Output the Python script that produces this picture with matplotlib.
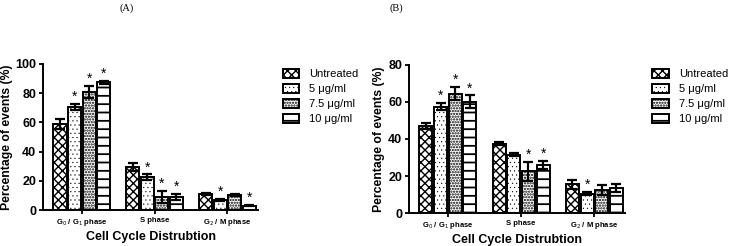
import numpy as np
import matplotlib.pyplot as plt
import matplotlib as mpl

plt.rcParams['font.family'] = ['Liberation Sans', 'DejaVu Sans']

phases = ["G$_0$ / G$_1$ phase", "S phase", "G$_2$ / M phase"]
groups = ["Untreated", "5 \u03bcg/ml", "7.5 \u03bcg/ml", "10 \u03bcg/ml"]

# panel A values (mean, sem) per treatment across phases
a_mean = [[59, 29.5, 11], [70.5, 22.5, 7], [81, 9, 10.5], [87.5, 9, 3]]
a_err = [[3.5, 3, 1], [2, 2, 0.5], [4, 4, 0.7], [1, 2, 0.5]]
a_star = [[0, 0, 0], [1, 1, 1], [1, 1, 0], [1, 1, 1]]

# panel B values
b_mean = [[47, 37.5, 15.5], [57.5, 31.5, 10.5], [64.5, 22.5, 12.5], [60, 26, 13.5]]
b_err = [[1.5, 1, 2.5], [2, 0.8, 1], [3.5, 5, 2.5], [3.5, 2, 2]]
b_star = [[0, 0, 0], [1, 0, 1], [1, 1, 0], [1, 1, 0]]

hatches = ['xxxx', '....', '......', '--']
hatch_lw = [1.0, 0.3, 1.1, 1.3]

fig = plt.figure(figsize=(7.33, 2.46), dpi=100)

def panel(rect, mean, err, star, ymax, ystep, title, title_x):
    ax = fig.add_axes(rect)
    x = np.arange(len(phases))
    w = 0.18
    for i in range(len(groups)):
        mpl.rcParams['hatch.linewidth'] = hatch_lw[i]
        pos = x + (i - 1.5) * 0.2
        bars = ax.bar(pos, mean[i], w, color='white', edgecolor='black', hatch=hatches[i],
                      linewidth=1.4, label=groups[i], zorder=2)
        for b in bars:
            if hasattr(b, 'set_hatch_linewidth'):
                b.set_hatch_linewidth(hatch_lw[i])
        ax.errorbar(pos, mean[i], yerr=err[i], fmt='none', ecolor='black',
                    elinewidth=1.6, capsize=3.5, capthick=1.6, zorder=3)
        for j in range(len(phases)):
            if star[i][j]:
                ax.text(pos[j], mean[i][j] + err[i][j], '*',
                        ha='center', va='bottom', fontsize=10)
    ax.set_xlim(-0.53, 2.42)
    ax.set_ylim(0, ymax)
    ax.set_yticks(np.arange(0, ymax + 1, ystep))
    ax.set_xticks(x)
    ax.set_xticklabels(phases, fontsize=5.5, fontweight='bold')
    ax.tick_params(axis='y', labelsize=9, width=1.3, length=3, pad=2)
    ax.tick_params(axis='x', width=1.3, length=3, pad=2)
    for t in ax.get_yticklabels():
        t.set_fontweight('bold')
    ax.spines['top'].set_visible(False)
    ax.spines['right'].set_visible(False)
    ax.spines['left'].set_linewidth(1.4)
    ax.spines['bottom'].set_linewidth(1.4)
    ax.set_xlabel("Cell Cycle Distrubtion", fontsize=9, fontweight='bold', labelpad=2)
    ax.set_ylabel("Percentage of events (%)", fontsize=8.8, fontweight='bold', labelpad=2)
    fig.text(title_x, 0.965, title, ha='center', va='center', fontsize=7.5,
             family='Liberation Serif')
    return ax

axA = panel([0.059, 0.146, 0.293, 0.594], a_mean, a_err, a_star, 100, 20, "(A)", 0.173)
axB = panel([0.558, 0.134, 0.295, 0.602], b_mean, b_err, b_star, 80, 20, "(B)", 0.541)

for ax, bx in [(axA, 0.372), (axB, 0.876)]:
    h, l = ax.get_legend_handles_labels()
    leg = fig.legend(h[:4], l[:4], loc='upper left', bbox_to_anchor=(bx, 0.76), frameon=False,
                     fontsize=8, handlelength=1.5, handleheight=0.9, handletextpad=0.9,
                     labelspacing=0.4)
    for p, lw in zip(leg.get_patches(), hatch_lw):
        if hasattr(p, 'set_hatch_linewidth'):
            p.set_hatch_linewidth(lw)

fig.savefig("out.png", dpi=100)
